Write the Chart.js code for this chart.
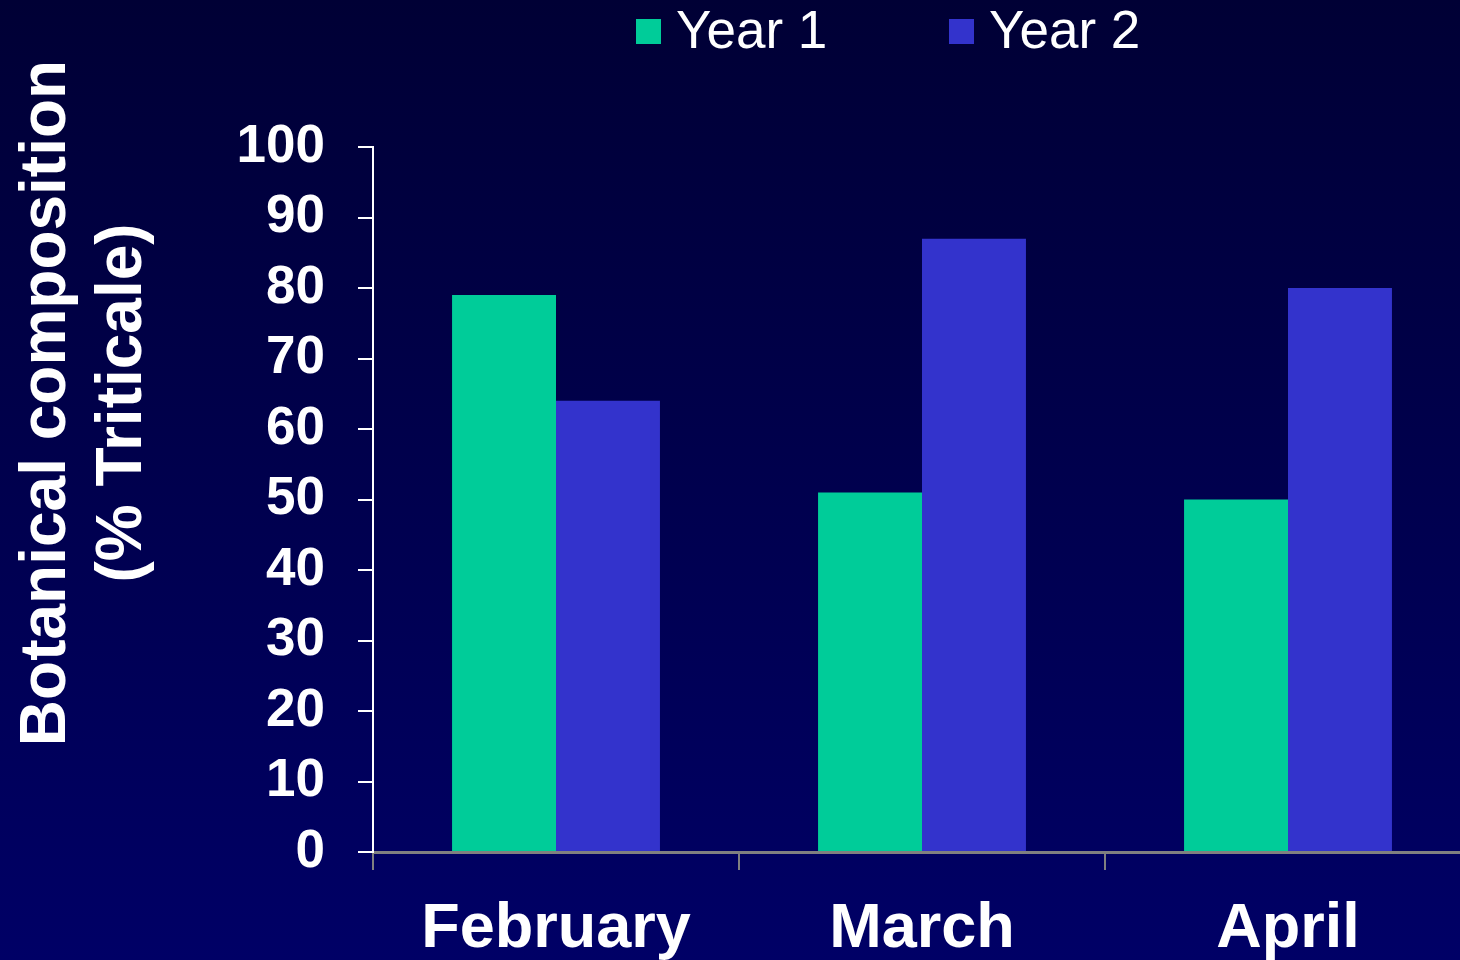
<!DOCTYPE html>
<html lang="en">
<head>
  <meta charset="UTF-8">
  <title>Botanical composition</title>
  <script src="https://cdn.jsdelivr.net/npm/chart.js"></script>
  <style>
    html, body { margin: 0; padding: 0; overflow: hidden; }
    body { width: 1460px; height: 960px; background: linear-gradient(to bottom, #000035 0%, #000066 100%); }
    #wrap { width: 1475px; height: 960px; }
  </style>
</head>
<body>
  <div id="wrap"><canvas id="barras"></canvas></div>
<script>
// dados
var meses = ['February', 'March', 'April'];
var ano1 = [79, 51, 50];
var ano2 = [64, 87, 80];
var nomesSeries = ['Year 1', 'Year 2'];
var tituloY = ['Botanical composition', '(% Triticale)'];

var corAno1 = '#00CC99';
var corAno2 = '#3333CC';
var fonte = '"Liberation Sans", Arial, sans-serif';

// legenda e título do eixo Y desenhados à mão
var extras = {
  id: 'extras',
  afterDraw: function(chart) {
    var ctx = chart.ctx;
    ctx.save();

    // legenda
    var itens = [
      { x: 636, cor: chart.data.datasets[0].backgroundColor, txt: chart.data.datasets[0].label },
      { x: 949, cor: chart.data.datasets[1].backgroundColor, txt: chart.data.datasets[1].label }
    ];
    ctx.font = '53px ' + fonte;
    ctx.textBaseline = 'middle';
    ctx.textAlign = 'left';
    itens.forEach(function(it) {
      ctx.fillStyle = it.cor;
      ctx.fillRect(it.x, 19, 25, 25);
      ctx.fillStyle = '#ffffff';
      ctx.fillText(it.txt, it.x + 40, 33);
    });

    // título do eixo Y
    ctx.translate(0, 403);
    ctx.rotate(-Math.PI / 2);
    ctx.font = 'bold 64px ' + fonte;
    ctx.textAlign = 'center';
    ctx.textBaseline = 'alphabetic';
    ctx.fillText(tituloY[0], 0, 65);
    ctx.fillText(tituloY[1], 0, 141);
    ctx.restore();
  }
};

var ctx = document.getElementById('barras').getContext('2d');
var grafico = new Chart(ctx, {
  type: 'bar',
  data: {
    labels: meses,
    datasets: [{
      label: nomesSeries[0],
      data: ano1,
      backgroundColor: corAno1,
      borderWidth: 0
    }, {
      label: nomesSeries[1],
      data: ano2,
      backgroundColor: corAno2,
      borderWidth: 0
    }]
  },
  options: {
    responsive: true,
    maintainAspectRatio: false,
    animation: false,
    layout: { padding: { top: 147, right: 4, left: 0, bottom: 0 } },
    datasets: { bar: { barPercentage: 1, categoryPercentage: 0.568 } },
    plugins: {
      legend: { display: false },
      tooltip: { enabled: false }
    },
    scales: {
      x: {
        afterFit: function(scale) { scale.height = 108; },
        grid: { drawOnChartArea: false, drawTicks: true, tickLength: 18, color: '#808080', lineWidth: 2, offset: true },
        border: { color: '#808080', width: 3 },
        ticks: { color: '#ffffff', font: { family: fonte, size: 63, weight: 'bold' }, padding: 22 }
      },
      y: {
        min: 0,
        max: 100,
        afterFit: function(scale) { scale.width = 373; },
        grid: { drawOnChartArea: false, drawTicks: true, tickLength: 15, color: '#ffffff', lineWidth: 2 },
        border: { color: '#ffffff', width: 2 },
        ticks: { stepSize: 10, color: '#ffffff', font: { family: fonte, size: 53, weight: 'bold' }, padding: 33 }
      }
    }
  },
  plugins: [extras]
});
</script>
</body>
</html>
